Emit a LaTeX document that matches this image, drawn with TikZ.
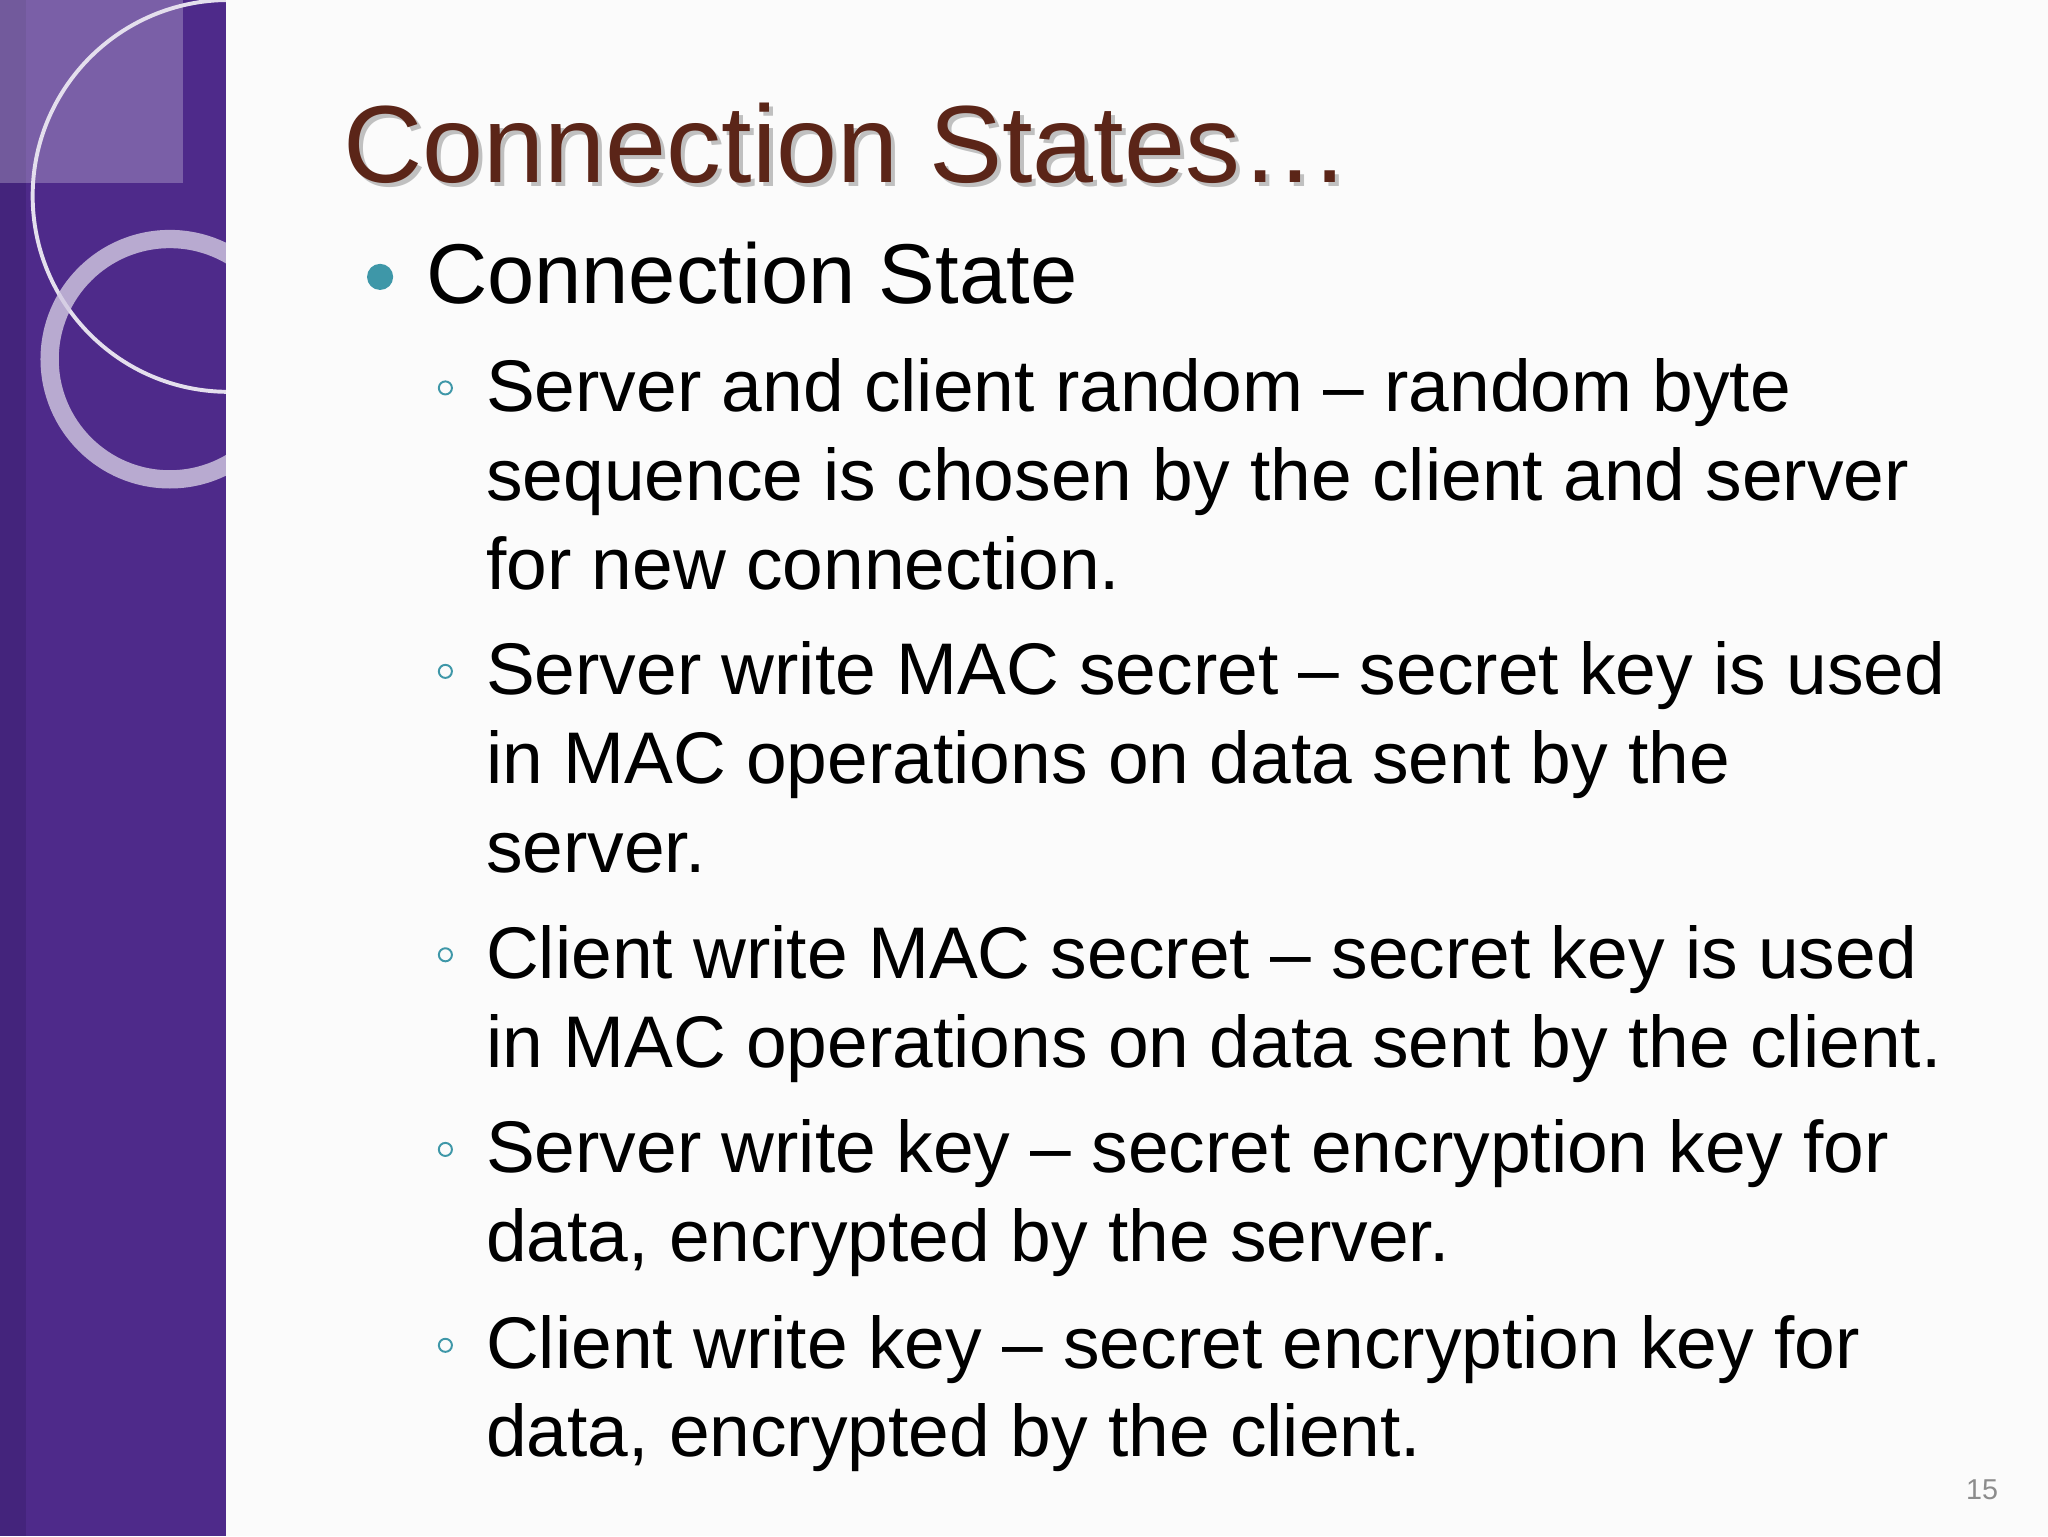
\documentclass[tikz,border=0pt]{standalone}
\usepackage{fontspec}
\setmainfont{Liberation Sans}
\definecolor{purp}{HTML}{4E2A8A}
\definecolor{purpd}{HTML}{3C1F70}
\definecolor{ttl}{HTML}{5B2518}
\definecolor{bul}{HTML}{3E97A8}
\begin{document}
\begin{tikzpicture}[x=1pt,y=-1pt,
  body/.style={anchor=base west,inner sep=0pt,font=\fontsize{56}{56}\selectfont},
  sub/.style={circle,draw=bul,line width=1.5pt,inner sep=0pt,minimum size=10pt}]
\useasboundingbox (0,0) rectangle (1568,1176);
\fill[white!97!gray] (0,0) rectangle (1568,1176);
\fill[purp] (0,0) rectangle (173,1176);
\fill[purpd,opacity=0.5] (0,0) rectangle (20,1176);
\begin{scope}
\clip (0,0) rectangle (173,1176);
\fill[white,opacity=0.25] (0,0) rectangle (140,140);
\draw[white!85!purp,line width=3pt] (175,150) circle (150);
\draw[white!75!purp,line width=14pt,opacity=0.8] (130,275) circle (92);
\end{scope}
\node[anchor=base west,inner sep=0pt,font=\fontsize{84}{84}\selectfont,text=black!40,opacity=0.6] at (266,143) {Connection States…};
\node (title)[anchor=base west,inner sep=0pt,font=\fontsize{84}{84}\selectfont,text=ttl] at (263,140) {Connection States…};
\fill[bul] (291,212) circle (10);
\node (h)[anchor=base west,inner sep=0pt,font=\fontsize{65}{65}\selectfont] at (326,232) {Connection State};
\foreach \y in {297,514,731,880,1030} \node[sub] at (341,\y) {};
\node[body] (a1) at (372,315) {Server and client random – random byte};
\node[body] (a2) at (372,383) {sequence is chosen by the client and server};
\node[body] (a3) at (372,451) {for new connection.};
\node[body] (b1) at (372,532) {Server write MAC secret – secret key is used};
\node[body] (b2) at (372,600) {in MAC operations on data sent by the};
\node[body] (b3) at (372,668) {server.};
\node[body] (c1) at (372,749) {Client write MAC secret – secret key is used};
\node[body] (c2) at (372,817) {in MAC operations on data sent by the client.};
\node[body] (d1) at (372,898) {Server write key – secret encryption key for};
\node[body] (d2) at (372,966) {data, encrypted by the server.};
\node[body] (e1) at (372,1048) {Client write key – secret encryption key for};
\node[body] (e2) at (372,1115) {data, encrypted by the client.};
\node (pg)[anchor=base east,inner sep=0pt,text=black!45,font=\fontsize{22}{22}\selectfont] at (1530,1148) {15};
\end{tikzpicture}
\end{document}
